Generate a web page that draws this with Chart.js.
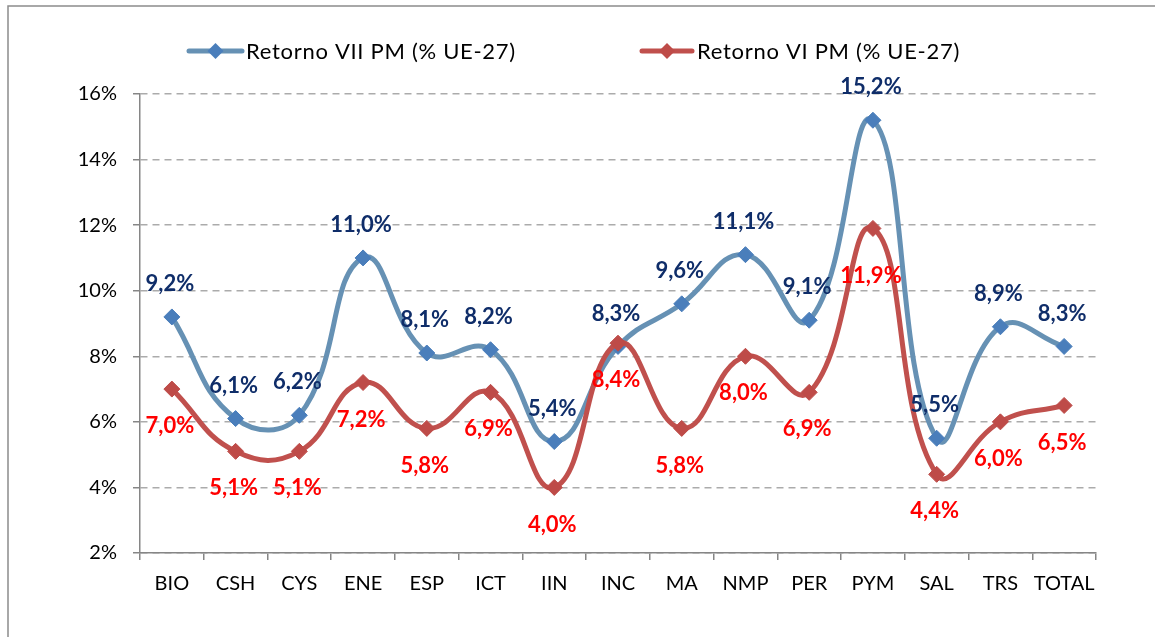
<!DOCTYPE html>
<html><head><meta charset="utf-8">
<script src="https://cdn.jsdelivr.net/npm/chart.js@4/dist/chart.umd.min.js"></script>
<style>html,body{margin:0;padding:0;background:#fff;overflow:hidden}#wrap{position:relative;width:1155px;height:637px}</style>
</head><body><div id="wrap"><canvas id="c" width="1155" height="637"></canvas></div>
<script>
const categories = ['BIO','CSH','CYS','ENE','ESP','ICT','IIN','INC','MA','NMP','PER','PYM','SAL','TRS','TOTAL'];
const seriesVII = [9.2, 6.1, 6.2, 11.0, 8.1, 8.2, 5.4, 8.3, 9.6, 11.1, 9.1, 15.2, 5.5, 8.9, 8.3];
const seriesVI  = [7.0, 5.1, 5.1, 7.2, 5.8, 6.9, 4.0, 8.4, 5.8, 8.0, 6.9, 11.9, 4.4, 6.0, 6.5];
const yTickValues = [2, 4, 6, 8, 10, 12, 14, 16];
const seriesNames = ['Retorno VII PM (% UE-27)', 'Retorno VI PM (% UE-27)'];

const FONT = 'Lato';
const fmt = v => v.toFixed(1).replace('.', ',') + '%';

const labelPlugin = {
  id: 'dataLabels',
  afterDatasetsDraw(chart) {
    const ctx = chart.ctx;
    ctx.save();
    ctx.font = 'bold 22px ' + FONT;
    ctx.textAlign = 'center';
    ctx.textBaseline = 'middle';
    chart.data.datasets.forEach((ds, di) => {
      const meta = chart.getDatasetMeta(di);
      meta.data.forEach((pt, i) => {
        const extra = (ds.labelShift && ds.labelShift[i]) || 0;
        ctx.fillStyle = ds.labelColor;
        ctx.fillText(fmt(ds.data[i]), pt.x - 2, pt.y + ds.labelOffset + extra);
      });
    });
    ctx.restore();
  }
};

const frameLegendPlugin = {
  id: 'frameLegend',
  beforeDraw(chart) {
    const ctx = chart.ctx;
    ctx.save();
    ctx.fillStyle = '#fff';
    ctx.fillRect(0, 0, chart.width, chart.height);
    ctx.strokeStyle = '#8C8C8C';
    ctx.lineWidth = 1.5;
    ctx.strokeRect(8, 6, 2000, 2000);
    ctx.restore();
  },
  afterDraw(chart) {
    const ctx = chart.ctx;
    const items = [
      {x0: 189, x1: 242, tx: 246, ds: chart.data.datasets[0]},
      {x0: 642, x1: 692, tx: 697, ds: chart.data.datasets[1]}
    ];
    const y = 51;
    ctx.save();
    items.forEach(it => {
      ctx.strokeStyle = it.ds.borderColor;
      ctx.lineWidth = 5;
      ctx.lineCap = 'round';
      ctx.beginPath(); ctx.moveTo(it.x0, y); ctx.lineTo(it.x1, y); ctx.stroke();
      const cx = (it.x0 + it.x1) / 2, r = 8;
      ctx.fillStyle = it.ds.pointBackgroundColor;
      ctx.beginPath();
      ctx.moveTo(cx, y - r); ctx.lineTo(cx + r, y); ctx.lineTo(cx, y + r); ctx.lineTo(cx - r, y); ctx.closePath();
      ctx.fill();
      ctx.fillStyle = '#000';
      ctx.font = '22px ' + FONT;
      ctx.letterSpacing = '0.7px';
      ctx.textAlign = 'left';
      ctx.textBaseline = 'middle';
      ctx.fillText(it.ds.label, it.tx, y + 1);
      ctx.letterSpacing = '0px';
    });
    ctx.restore();
  }
};

new Chart(document.getElementById('c'), {
  type: 'line',
  data: {
    labels: categories,
    datasets: [
      {
        label: seriesNames[0],
        data: seriesVII,
        borderColor: '#6691B4',
        borderWidth: 5,
        pointStyle: 'rectRot',
        pointRadius: 8,
        pointBackgroundColor: '#4A7EBB',
        pointBorderColor: '#4A7EBB',
        pointBorderWidth: 1,
        tension: 0.45,
        order: 2,
        labelColor: '#0F2D69',
        labelOffset: -33
      },
      {
        label: seriesNames[1],
        data: seriesVI,
        borderColor: '#C0504D',
        borderWidth: 5,
        pointStyle: 'rectRot',
        pointRadius: 8,
        pointBackgroundColor: '#BE4B48',
        pointBorderColor: '#BE4B48',
        pointBorderWidth: 1,
        tension: 0.45,
        order: 1,
        labelColor: '#FF0000',
        labelOffset: 37,
        labelShift: {11: 10}
      }
    ]
  },
  options: {
    responsive: false,
    animation: false,
    events: [],
    layout: {padding: {top: 94, right: 59, left: 0, bottom: 0}},
    plugins: {legend: {display: false}, tooltip: {enabled: false}},
    scales: {
      x: {
        offset: true,
        grid: {display: true, drawOnChartArea: false, drawTicks: true, tickLength: 7, offset: true, color: '#868686', tickColor: '#868686', lineWidth: 1.5},
        border: {display: true, color: '#868686', width: 1.5},
        ticks: {color: '#000', font: {family: FONT, size: 20}, padding: 12, maxRotation: 0, autoSkip: false},
        afterFit(s) { s.height = 84; s.paddingLeft = 0; s.paddingRight = 0; }
      },
      y: {
        min: 2, max: 16,
        afterBuildTicks(s) { s.ticks = yTickValues.map(v => ({value: v})); },
        grid: {color: '#ABABAB', lineWidth: 1.5, tickLength: 7, tickColor: '#868686', tickBorderDash: []},
        border: {display: true, color: '#868686', width: 1.5, dash: [7, 5]},
        ticks: {color: '#000', font: {family: FONT, size: 20}, padding: 16, callback: v => v + '%'},
        afterFit(s) { s.width = 140; s.paddingTop = 0; s.paddingBottom = 0; }
      }
    }
  },
  plugins: [frameLegendPlugin, labelPlugin]
});
</script>
</body></html>
